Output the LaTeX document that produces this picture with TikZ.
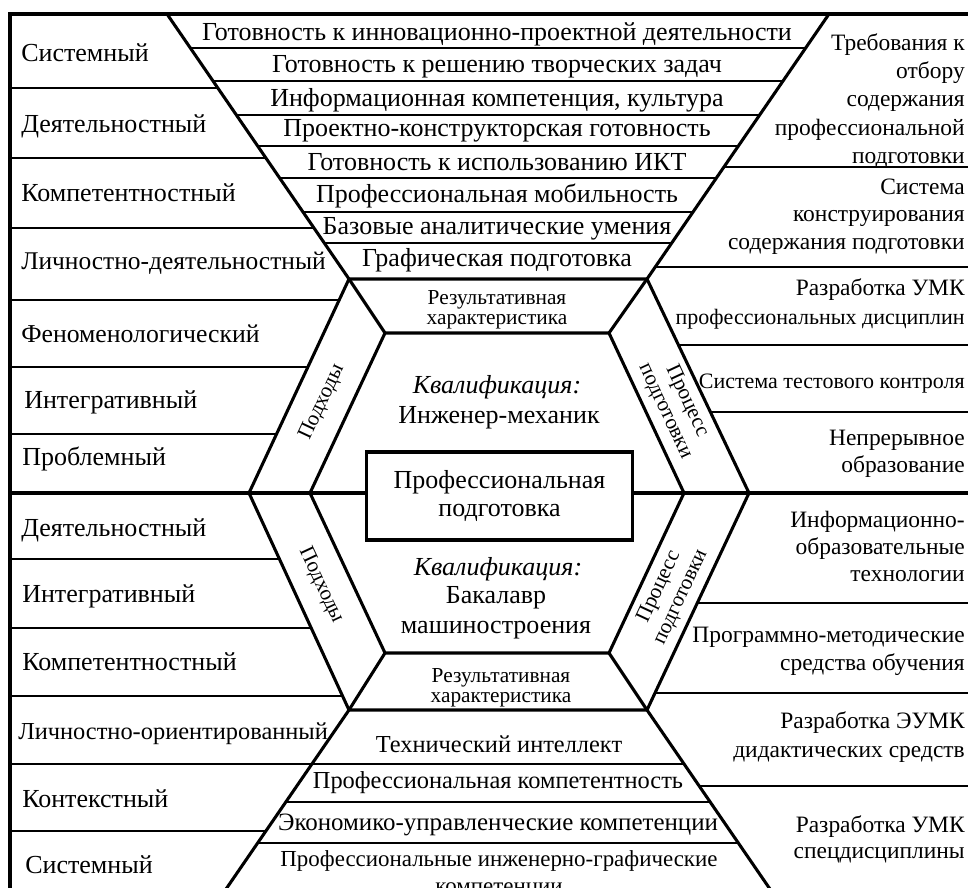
\documentclass[tikz,border=0pt]{standalone}
\usepackage{fontspec}
\setmainfont{Liberation Serif}
\usetikzlibrary{calc}
\begin{document}
\begin{tikzpicture}[x=0.75pt,y=-0.75pt,
  thickln/.style={line width=2.3pt,line join=miter},
  thinln/.style={line width=1.2pt},
  lt/.style={inner sep=0pt,anchor=base west},
  rt/.style={inner sep=0pt,anchor=base east},
  ct/.style={inner sep=0pt,anchor=base,font=\fontsize{19.5}{21}\selectfont},
  itt/.style={inner sep=0pt,anchor=base,font=\fontsize{19.5}{21}\selectfont\itshape},
  st/.style={inner sep=0pt,anchor=base,font=\fontsize{16}{18}\selectfont},
  rot/.style={inner sep=0pt,align=center,font=\fontsize{16}{18}\selectfont},
]
\useasboundingbox (0,0) rectangle (968,888);
\fill[white] (0,0) rectangle (968,888);
\clip (0,0) rectangle (968,888);
% key points
\coordinate (TL) at (167,14);
\coordinate (TR) at (829,14);
\coordinate (HTL) at (349,279);
\coordinate (HTR) at (647,279);
\coordinate (HR) at (749,493);
\coordinate (HBR) at (647,710);
\coordinate (HBL) at (349,710);
\coordinate (HL) at (249,493);
\coordinate (ITL) at (385,333);
\coordinate (ITR) at (609,333);
\coordinate (IR) at (684,493);
\coordinate (IBR) at (609,653);
\coordinate (IBL) at (385,653);
\coordinate (IL) at (310,493);
\coordinate (BL) at (167,975);
\coordinate (BR) at (829,975);
\coordinate (LB) at (10,14);
\coordinate (RB) at (970,14);
\coordinate (LBB) at (10,900);
% thin row separators
\foreach \y in {48,81,115,146,178,212,243}
  \draw[thinln] ($(TL)!{(\y-14)/265}!(HTL)$) -- ($(TR)!{(\y-14)/265}!(HTR)$);
\foreach \y in {88,158,228}
  \draw[thinln] (10,\y) -- ($(TL)!{(\y-14)/265}!(HTL)$);
\foreach \y in {300,367,434}
  \draw[thinln] (10,\y) -- ($(HTL)!{(\y-279)/214}!(HL)$);
\foreach \y in {559,628,696}
  \draw[thinln] (10,\y) -- ($(HL)!{(\y-493)/217}!(HBL)$);
\draw[thinln] (10,831) -- ($(HBL)!{121/265}!(BL)$);
\draw[thinln] (10,764) -- ($(HBR)!{54/265}!(BR)$);
\foreach \y in {802,843}
  \draw[thinln] ($(HBL)!{(\y-710)/265}!(BL)$) -- ($(HBR)!{(\y-710)/265}!(BR)$);
\foreach \y in {167,267}
  \draw[thinln] ($(TR)!{(\y-14)/265}!(HTR)$) -- (970,\y);
\foreach \y in {345,412}
  \draw[thinln] ($(HTR)!{(\y-279)/214}!(HR)$) -- (970,\y);
\foreach \y in {603,693}
  \draw[thinln] ($(HR)!{(\y-493)/217}!(HBR)$) -- (970,\y);
\draw[thinln] ($(HBR)!{76/265}!(BR)$) -- (970,786);
% thick frame lines
\draw[thickln] (LBB) -- (LB) -- (RB);
\draw[thickln] (TL) -- (HTL) (TR) -- (HTR);
\draw[thickln] (HBL) -- (BL) (HBR) -- (BR);
\draw[thickln] (HTL) -- (HL) -- (HBL) -- (HBR) -- (HR) -- (HTR) -- cycle;
\draw[thickln] (ITL) -- (IL) -- (IBL) -- (IBR) -- (IR) -- (ITR) -- cycle;
\draw[thickln] (HTL) -- (ITL) (HTR) -- (ITR) (HBL) -- (IBL) (HBR) -- (IBR);
% centre box
\node[draw,line width=2.3pt,minimum width=199.5pt,minimum height=66pt,inner sep=0pt,
      align=center,font=\fontsize{19.5}{21}\selectfont] (box) at (499.5,496)
      {Профессиональная\\подготовка};
\draw[thickln] (10,493) -- (box.west |- HL) (box.east |- HR) -- (970,493);
% left labels
\foreach \x/\y/\s/\t [count=\i] in {21/62/19.5/Системный,21/133/19.5/Деятельностный,21/202/19.5/Компетентностный,
  21/270/19.1/Личностно-деятельностный,21/342/19.3/Феноменологический,24/408/19.5/Интегративный,22/465/19.5/Проблемный,
  21/536/19.5/Деятельностный,22/602/19.5/Интегративный,22/670/19.5/Компетентностный,18/739/18.3/Личностно-ориентированный,
  22/807/19.5/Контекстный,25/873/19.5/Системный}
  \node[lt,font=\fontsize{\s}{\s}\selectfont] (L\i) at (\x,\y) {\t};
% upper trapezoid
\foreach \y/\t [count=\i] in {41/Готовность к инновационно-проектной деятельности,
  73/Готовность к решению творческих задач,107/{Информационная компетенция, культура},
  137/Проектно-конструкторская готовность,171/Готовность к использованию ИКТ,
  203/Профессиональная мобильность,235/Базовые аналитические умения,267/Графическая подготовка}
  \node[ct] (U\i) at (497,\y) {\t};
% lower trapezoid
\foreach \x/\y/\s/\t [count=\i] in {499/752/18.3/Технический интеллект,498/788/18.3/Профессиональная компетентность,
  498/830/18.7/Экономико-управленческие компетенции,499/866/17.2/Профессиональные инженерно-графические,
  499/893/17.2/компетенции}
  \node[ct,font=\fontsize{\s}{\s}\selectfont] (D\i) at (\x,\y) {\t};
% right labels
\foreach \y/\s/\t [count=\i] in {51/17.6/Требования к,79/17.6/отбору,107/17.6/содержания,136/17.6/профессиональной,
  164/17.6/подготовки,195/17.6/Система,222/17.6/конструирования,250/17.6/содержания подготовки,
  296/17.6/Разработка УМК,324/16.5/профессиональных дисциплин,388/16.5/Система тестового контроля,
  445/17.6/Непрерывное,472/17.6/образование,527/17.6/Информационно-,554/17.6/образовательные,
  581/17.6/технологии,642/17.6/Программно-методические,670/17.6/средства обучения,728/17.6/Разработка ЭУМК,
  757/17.6/дидактических средств,832/17.6/Разработка УМК,858/17.6/спецдисциплины}
  \node[rt,font=\fontsize{\s}{\s}\selectfont] (R\i) at (965,\y) {\t};
% centre texts
\node[st] (res1a) at (497,305) {Результативная};
\node[st] (res1b) at (497,325) {характеристика};
\node[itt] (q1a) at (497,393) {Квалификация:};
\node[ct] (q1b) at (499,423) {Инженер-механик};
\node[itt] (q2a) at (498,575) {Квалификация:};
\node[ct] (q2b) at (496,603) {Бакалавр};
\node[ct] (q2c) at (496,633) {машиностроения};
\node[st] (res2a) at (501,682) {Результативная};
\node[st] (res2b) at (501,702) {характеристика};
% rotated band labels
\node[rot,rotate=65] (ap1) at (322,402) {Подходы};
\node[rot,rotate=-65] (ap2) at (321,585) {Подходы};
\node[rot,rotate=-65] (pr1) at (676,406) {Процесс\\подготовки};
\node[rot,rotate=65] (pr2) at (670,592) {Процесс\\подготовки};
\end{tikzpicture}
\end{document}
